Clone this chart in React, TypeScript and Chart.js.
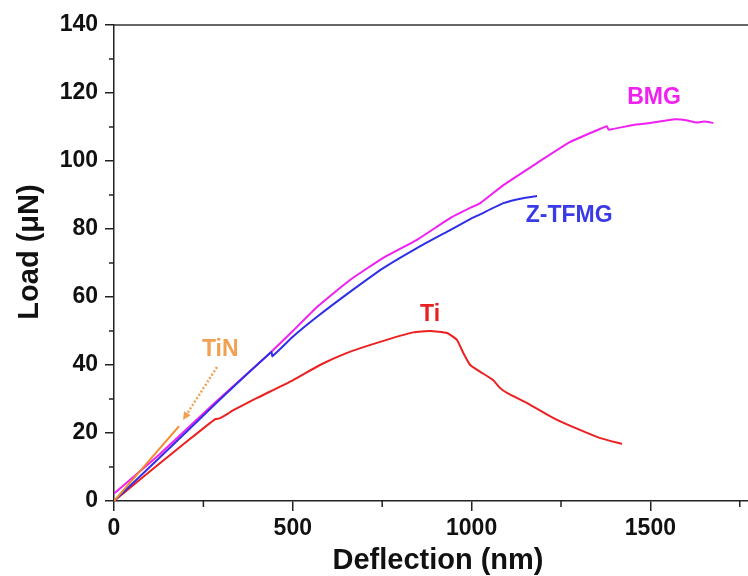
import React, { useEffect, useRef } from "react";
import { Chart, registerables } from "chart.js";

Chart.register(...registerables);

// ---- data ----
const bmgX = [0, 130, 283, 427, 500, 567, 660, 753, 847, 940, 996, 1024, 1089, 1183, 1276, 1368, 1379, 1383, 1452, 1500, 1569, 1600, 1630, 1650, 1676];
const bmgY = [2.2, 14, 29, 42.6, 50, 57, 65, 71.5, 76.8, 83.2, 86.2, 87.6, 92.9, 99.4, 105.6, 109.8, 110.2, 109.2, 110.6, 111.2, 112.3, 112, 111.3, 111.6, 111.2];

const tfmgX = [0, 130, 283, 440, 443, 500, 567, 660, 753, 847, 940, 996, 1024, 1089, 1140, 1183];
const tfmgY = [0, 13, 28.5, 43.8, 42.6, 48.3, 54.1, 61.5, 68.5, 74.4, 79.7, 82.9, 84.3, 87.6, 89, 89.7];

const tiX = [0, 100, 200, 283, 295, 320, 330, 400, 500, 576, 650, 744, 837, 884, 931, 959, 977, 996, 1024, 1060, 1080, 1099, 1164, 1229, 1303, 1360, 1421];
const tiY = [0, 8.7, 17.2, 24.1, 24.3, 25.8, 26.5, 30.3, 35.5, 40, 43.5, 46.8, 49.6, 50, 49.4, 47.4, 43.5, 40, 38, 35.6, 33.2, 31.8, 28.3, 24.4, 20.9, 18.5, 16.8];

const tinX = [0, 182];
const tinY = [0, 22];

const xTicks = [0, 250, 500, 750, 1000, 1250, 1500, 1750];
const yTicks = [0, 10, 20, 30, 40, 50, 60, 70, 80, 90, 100, 110, 120, 130, 140];

// label annotations: text, x, y, color
const labelText = ["BMG", "Z-TFMG", "Ti", "TiN"];
const labelX = [1510, 1273, 884, 297];
const labelY = [118.5, 83.8, 54.7, 44.4];
const labelColor = ["#f020f0", "#3a3ae6", "#e82020", "#f2a052"];

// TiN dotted arrow (from -> to) in data units
const arrowFrom = [288, 39.4];
const arrowTo = [193, 23.8];

const toPts = (xs: number[], ys: number[]) => xs.map((x, i) => ({ x, y: ys[i] }));

const FONT = '"Liberation Sans", Arial, sans-serif';

export default function App() {
  const ref = useRef<HTMLCanvasElement>(null);

  useEffect(() => {
    if (!ref.current) return;

    const overlay = {
      id: "overlay",
      afterDatasetsDraw(chart: any) {
        const ctx = chart.ctx;
        const xs = chart.scales.x;
        const ys = chart.scales.y;
        const ca = chart.chartArea;
        ctx.save();
        // top border
        ctx.strokeStyle = "#333";
        ctx.lineWidth = 1.5;
        ctx.beginPath();
        ctx.moveTo(ca.left, ca.top);
        ctx.lineTo(chart.width, ca.top);
        ctx.stroke();
        // minor ticks
        ctx.strokeStyle = "#222";
        ctx.lineWidth = 1.5;
        xTicks.forEach((v) => {
          if (v % 500 !== 0) {
            const px = xs.getPixelForValue(v);
            ctx.beginPath();
            ctx.moveTo(px, ca.bottom);
            ctx.lineTo(px, ca.bottom + 6);
            ctx.stroke();
          }
        });
        yTicks.forEach((v) => {
          if (v % 20 !== 0) {
            const py = ys.getPixelForValue(v);
            ctx.beginPath();
            ctx.moveTo(ca.left, py);
            ctx.lineTo(ca.left - 5, py);
            ctx.stroke();
          }
        });
        // series labels
        ctx.font = "bold 23px " + FONT;
        ctx.textAlign = "center";
        ctx.textBaseline = "middle";
        labelText.forEach((t, i) => {
          ctx.fillStyle = labelColor[i];
          ctx.fillText(t, xs.getPixelForValue(labelX[i]), ys.getPixelForValue(labelY[i]));
        });
        // dotted arrow
        const x1 = xs.getPixelForValue(arrowFrom[0]);
        const y1 = ys.getPixelForValue(arrowFrom[1]);
        const x2 = xs.getPixelForValue(arrowTo[0]);
        const y2 = ys.getPixelForValue(arrowTo[1]);
        const ang = Math.atan2(y2 - y1, x2 - x1);
        const hl = 9;
        ctx.strokeStyle = "#f2a052";
        ctx.fillStyle = "#f2a052";
        ctx.lineWidth = 2.5;
        ctx.setLineDash([2, 2]);
        ctx.beginPath();
        ctx.moveTo(x1, y1);
        ctx.lineTo(x2 - Math.cos(ang) * hl * 0.8, y2 - Math.sin(ang) * hl * 0.8);
        ctx.stroke();
        ctx.setLineDash([]);
        ctx.beginPath();
        ctx.moveTo(x2, y2);
        ctx.lineTo(x2 - hl * Math.cos(ang - 0.45), y2 - hl * Math.sin(ang - 0.45));
        ctx.lineTo(x2 - hl * Math.cos(ang + 0.45), y2 - hl * Math.sin(ang + 0.45));
        ctx.closePath();
        ctx.fill();
        // axis titles
        ctx.fillStyle = "#111";
        ctx.font = "bold 29px " + FONT;
        ctx.textAlign = "center";
        ctx.textBaseline = "middle";
        ctx.fillText("Deflection (nm)", 438, 561);
        ctx.translate(30, 252);
        ctx.rotate(-Math.PI / 2);
        ctx.fillText("Load (\u03BCN)", 0, 0);
        ctx.restore();
      },
    };

    const chart = new Chart(ref.current, {
      type: "scatter",
      data: {
        datasets: [
          { label: "TiN", data: toPts(tinX, tinY), borderColor: "#f28a30", order: 0 },
          { label: "Z-TFMG", data: toPts(tfmgX, tfmgY), borderColor: "#2f2fe8", order: 1 },
          { label: "BMG", data: toPts(bmgX, bmgY), borderColor: "#f020f0", order: 2 },
          { label: "Ti", data: toPts(tiX, tiY), borderColor: "#ec2020", order: 3 },
        ].map((d) => ({
          ...d,
          showLine: true,
          pointRadius: 0,
          borderWidth: 2,
          tension: 0.15,
          fill: false,
        })),
      },
      options: {
        responsive: false,
        animation: false,
        devicePixelRatio: 1,
        layout: { padding: { top: 25, left: 0, right: 0, bottom: 0 } },
        plugins: { legend: { display: false }, tooltip: { enabled: false } },
        scales: {
          x: {
            type: "linear",
            min: 0,
            max: 1773,
            afterBuildTicks: (s: any) => {
              s.ticks = xTicks.map((v) => ({ value: v }));
            },
            afterFit: (s: any) => {
              s.height = 75;
            },
            ticks: {
              autoSkip: false,
              maxRotation: 0,
              padding: 4,
              color: "#111",
              font: { family: FONT, size: 23, weight: "bold" },
              callback: (v: any) => (Number(v) % 500 === 0 ? String(v) : ""),
            },
            grid: {
              drawOnChartArea: false,
              drawTicks: true,
              tickLength: 10,
              lineWidth: 1.5,
              tickColor: (c: any) => (c.tick && c.tick.value % 500 === 0 ? "#222" : "rgba(0,0,0,0)"),
            },
            border: { color: "#222", width: 1.5 },
          },
          y: {
            type: "linear",
            min: 0,
            max: 140,
            afterBuildTicks: (s: any) => {
              s.ticks = yTicks.map((v) => ({ value: v }));
            },
            afterFit: (s: any) => {
              s.width = 114;
            },
            ticks: {
              autoSkip: false,
              padding: 7,
              color: "#111",
              font: { family: FONT, size: 23, weight: "bold" },
              callback: (v: any) => (Number(v) % 20 === 0 ? String(v) : ""),
            },
            grid: {
              drawOnChartArea: false,
              drawTicks: true,
              tickLength: 9,
              lineWidth: 1.5,
              tickColor: (c: any) => (c.tick && c.tick.value % 20 === 0 ? "#222" : "rgba(0,0,0,0)"),
            },
            border: { color: "#222", width: 1.5 },
          },
        },
      },
      plugins: [overlay],
    } as any);

    return () => chart.destroy();
  }, []);

  return (
    <div style={{ position: "fixed", left: 0, top: 0, width: 748, height: 576, background: "#fff" }}>
      <canvas ref={ref} width={748} height={576} style={{ display: "block" }} />
    </div>
  );
}
